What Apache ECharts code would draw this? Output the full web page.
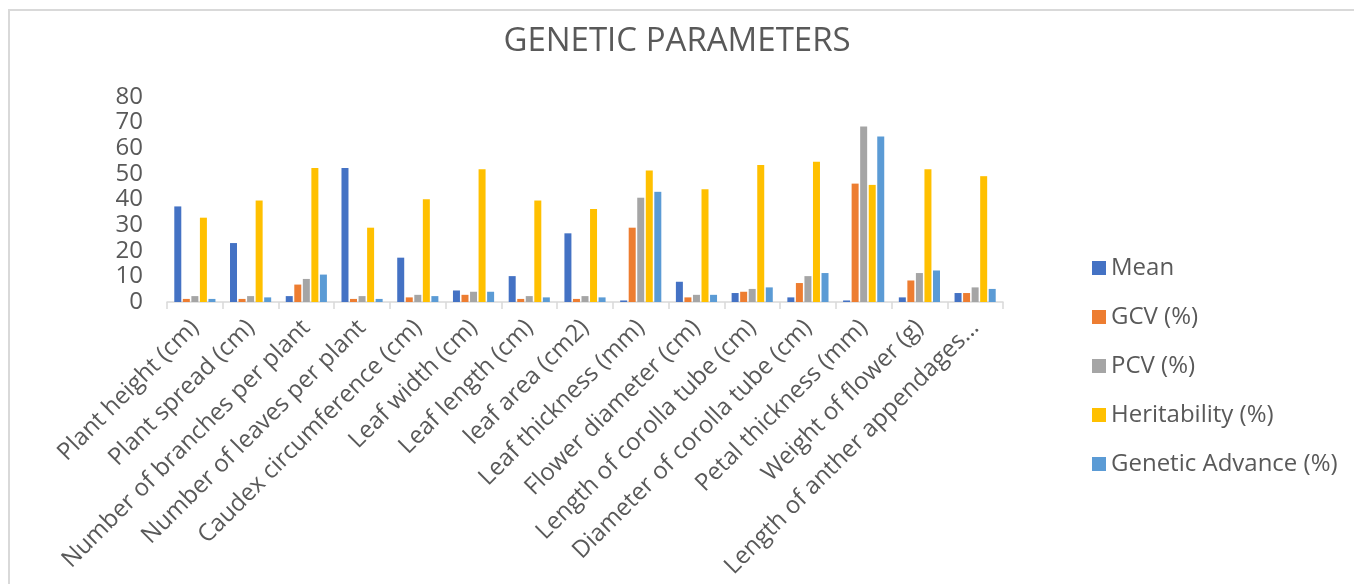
<!DOCTYPE html>
<html>
<head>
<meta charset="utf-8">
<script src="https://cdn.jsdelivr.net/npm/echarts@6/dist/echarts.min.js"></script>
<style>html,body{margin:0;padding:0;background:#fff;}#c{width:1354px;height:584px;}</style>
</head>
<body>
<div id="c"></div>
<script>
const categories = ["Plant height (cm)", "Plant spread (cm)", "Number of branches per plant", "Number of leaves per plant", "Caudex circumference (cm)", "Leaf width (cm)", "Leaf length (cm)", "leaf area (cm2)", "Leaf thickness (mm)", "Flower diameter (cm)", "Length of corolla tube (cm)", "Diameter of corolla tube (cm)", "Petal thickness (mm)", "Weight of flower (g)", "Length of anther appendages…"];
const seriesNames = ["Mean", "GCV (%)", "PCV (%)", "Heritability (%)", "Genetic Advance (%)"];
const meanVals = [37.3, 23.0, 2.3, 52.3, 17.3, 4.5, 10.1, 26.8, 0.6, 7.9, 3.5, 1.8, 0.6, 1.8, 3.5];
const gcvVals = [1.2, 1.2, 6.8, 1.2, 1.8, 2.8, 1.2, 1.2, 29.0, 1.8, 4.0, 7.4, 46.2, 8.4, 3.5];
const pcvVals = [2.3, 2.3, 9.0, 2.3, 2.8, 4.0, 2.3, 2.3, 40.7, 2.8, 5.1, 10.1, 68.5, 11.3, 5.7];
const heritVals = [32.9, 39.6, 52.3, 29.0, 40.1, 51.8, 39.6, 36.3, 51.3, 44.0, 53.5, 54.7, 45.7, 51.8, 49.1];
const gaVals = [1.2, 1.8, 10.7, 1.2, 2.3, 4.0, 1.8, 1.8, 43.0, 2.8, 5.7, 11.3, 64.6, 12.3, 5.1];
const yTicks = [0, 10, 20, 30, 40, 50, 60, 70, 80];

const colors = ["#4472C4", "#ED7D31", "#A5A5A5", "#FFC000", "#5B9BD5"];
const allVals = [meanVals, gcvVals, pcvVals, heritVals, gaVals];
const textColor = "#595959";
const font = "Open Sans";

const chart = echarts.init(document.getElementById('c'));
chart.setOption({
  animation: false,
  backgroundColor: '#fff',
  color: colors,
  graphic: [{
    type: 'rect', silent: true, z: -10,
    shape: { x: 9, y: 10, width: 1400, height: 620 },
    style: { fill: 'none', stroke: '#d9d9d9', lineWidth: 2 }
  }],
  title: {
    text: 'GENETIC PARAMETERS',
    left: 'center',
    top: 20,
    textStyle: { fontFamily: font, fontSize: 33, fontWeight: 'normal', color: textColor }
  },
  legend: {
    orient: 'vertical',
    left: 1087,
    top: 251,
    itemWidth: 14,
    itemHeight: 14,
    itemGap: 25,
    icon: 'rect',
    textStyle: { fontFamily: font, fontSize: 24, color: textColor, padding: [0, 0, 0, 0] },
    data: seriesNames
  },
  grid: { left: 167, right: 351, top: 97, bottom: 282, containLabel: false },
  xAxis: {
    type: 'category',
    data: categories,
    axisLine: { lineStyle: { color: '#d9d9d9', width: 1.5 } },
    axisTick: { show: true, length: 7, lineStyle: { color: '#d9d9d9', width: 1.5 } },
    axisLabel: { interval: 0, rotate: 45, margin: 22, fontFamily: font, fontSize: 24, color: textColor }
  },
  yAxis: {
    type: 'value',
    min: yTicks[0],
    max: yTicks[yTicks.length - 1],
    interval: 10,
    axisLine: { show: false },
    axisTick: { show: false },
    splitLine: { show: false },
    axisLabel: { margin: 24, fontFamily: font, fontSize: 24, color: textColor }
  },
  series: seriesNames.map((n, i) => ({
    name: n,
    type: 'bar',
    data: allVals[i],
    barWidth: 7,
    barGap: '22%',
    itemStyle: { color: colors[i] }
  }))
});
</script>
</body>
</html>
